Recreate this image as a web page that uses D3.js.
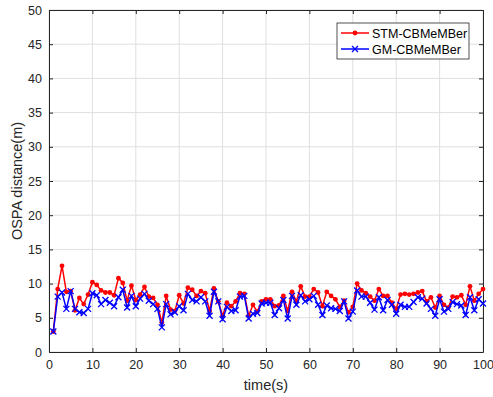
<!DOCTYPE html>
<html>
<head>
<meta charset="utf-8">
<script src="https://cdn.jsdelivr.net/npm/d3@7"></script>
<style>
  body { margin: 0; background: #fff; }
  svg { display: block; font-family: "Liberation Sans", Arial, sans-serif; }
</style>
</head>
<body>
<div id="chart"></div>
<script>
// OSPA distance per time step
const stmCBMeMBer = [
  3.0, 9.2, 12.6, 8.8, 8.9, 6.1, 7.9, 7.0, 8.4, 10.2,
  9.8, 9.0, 8.7, 8.7, 8.3, 10.8, 10.1, 7.5, 9.7, 7.6,
  8.4, 9.5, 8.1, 7.9, 6.9, 4.3, 8.2, 6.2, 6.0, 8.3,
  7.1, 9.4, 9.1, 8.2, 8.9, 8.6, 6.0, 9.3, 7.4, 5.3,
  7.2, 6.7, 7.4, 8.6, 8.5, 5.3, 6.9, 5.9, 7.4, 7.7,
  7.7, 6.7, 6.8, 8.2, 6.0, 8.8, 7.4, 9.6, 8.1, 8.1,
  9.2, 8.7, 6.7, 8.8, 8.2, 7.7, 6.6, 7.5, 5.8, 6.6,
  10.0, 9.0, 8.6, 8.1, 7.5, 9.2, 8.2, 8.2, 7.2, 6.3,
  8.4, 8.5, 8.4, 8.5, 8.7, 8.9, 7.4, 8.0, 6.5, 8.2,
  6.9, 6.5, 8.1, 8.0, 8.3, 6.9, 9.6, 7.5, 8.5, 9.2
];
const gmCBMeMBer = [
  3.0, 8.1, 8.7, 6.3, 8.9, 6.3, 5.8, 5.7, 6.3, 8.6,
  8.3, 7.0, 7.6, 7.2, 6.7, 8.0, 9.1, 6.5, 8.2, 6.7,
  7.8, 8.5, 7.5, 7.0, 6.3, 3.6, 7.0, 5.5, 5.8, 6.7,
  6.1, 8.5, 7.6, 7.4, 8.0, 7.4, 5.3, 8.8, 7.4, 4.8,
  6.6, 6.0, 6.1, 8.1, 8.2, 4.9, 5.6, 5.7, 7.1, 7.2,
  7.2, 5.4, 6.4, 7.6, 4.9, 8.2, 6.9, 8.3, 7.4, 7.7,
  8.2, 6.9, 5.4, 6.8, 6.4, 6.3, 6.0, 7.4, 4.9, 5.9,
  9.0, 8.1, 8.1, 7.2, 6.2, 8.0, 6.1, 7.6, 6.9, 5.6,
  6.9, 6.6, 6.6, 7.3, 8.0, 7.8, 7.1, 6.3, 5.3, 7.7,
  5.9, 6.3, 7.3, 7.0, 6.8, 5.4, 8.0, 6.1, 7.7, 7.1
];
const seriesNames = ["STM-CBMeMBer", "GM-CBMeMBer"];
const xTicks = [0, 10, 20, 30, 40, 50, 60, 70, 80, 90, 100];
const yTicks = [0, 5, 10, 15, 20, 25, 30, 35, 40, 45, 50];

const W = 493, H = 397;
const margin = { top: 10, right: 10, bottom: 45, left: 49 };
const width = W - margin.left - margin.right;
const height = H - margin.top - margin.bottom;
const axisColor = "#262626";

const svg = d3.select("#chart").append("svg")
  .attr("width", W)
  .attr("height", H);

const g = svg.append("g")
  .attr("transform", `translate(${margin.left},${margin.top})`);

const x = d3.scaleLinear().domain([0, 100]).range([0, width]);
const y = d3.scaleLinear().domain([0, 50]).range([height, 0]);

// grid
g.append("g")
  .selectAll("line")
  .data(xTicks)
  .join("line")
  .attr("x1", d => x(d)).attr("x2", d => x(d))
  .attr("y1", 0).attr("y2", height)
  .attr("stroke", "#dfdfdf").attr("stroke-width", 1);
g.append("g")
  .selectAll("line")
  .data(yTicks)
  .join("line")
  .attr("x1", 0).attr("x2", width)
  .attr("y1", d => y(d)).attr("y2", d => y(d))
  .attr("stroke", "#dfdfdf").attr("stroke-width", 1);

// axes, ticks pointing inward
const xAxis = g.append("g")
  .attr("transform", `translate(0,${height})`)
  .call(d3.axisBottom(x).tickValues(xTicks).tickSize(-4).tickPadding(8).tickSizeOuter(0));
const xAxisTop = g.append("g")
  .call(d3.axisTop(x).tickValues(xTicks).tickSize(-4).tickFormat("").tickSizeOuter(0));
const yAxis = g.append("g")
  .call(d3.axisLeft(y).tickValues(yTicks).tickSize(-4).tickPadding(7).tickSizeOuter(0));
const yAxisRight = g.append("g")
  .attr("transform", `translate(${width},0)`)
  .call(d3.axisRight(y).tickValues(yTicks).tickSize(-4).tickFormat("").tickSizeOuter(0));

[xAxis, xAxisTop, yAxis, yAxisRight].forEach(a => {
  a.select(".domain").attr("stroke", axisColor).attr("stroke-width", 1);
  a.selectAll(".tick line").attr("stroke", axisColor);
  a.selectAll(".tick text")
    .attr("fill", axisColor)
    .style("font-size", "12.5px")
    .style("font-family", "Liberation Sans, Arial, sans-serif");
});

// data lines
const t = d3.range(1, 101);
const line = d3.line().x((d, i) => x(t[i])).y(d => y(d));

g.append("path")
  .datum(stmCBMeMBer)
  .attr("fill", "none")
  .attr("stroke", "#ff0000")
  .attr("stroke-width", 1.5)
  .attr("d", line);
g.append("g")
  .selectAll("circle")
  .data(stmCBMeMBer)
  .join("circle")
  .attr("cx", (d, i) => x(t[i]))
  .attr("cy", d => y(d))
  .attr("r", 2.4)
  .attr("fill", "#ff0000");

g.append("path")
  .datum(gmCBMeMBer)
  .attr("fill", "none")
  .attr("stroke", "#0000ff")
  .attr("stroke-width", 1.5)
  .attr("d", line);
const s = 3;
g.append("g")
  .selectAll("path")
  .data(gmCBMeMBer)
  .join("path")
  .attr("d", (d, i) => {
    const cx = x(t[i]), cy = y(d);
    return `M${cx - s},${cy - s}L${cx + s},${cy + s}M${cx - s},${cy + s}L${cx + s},${cy - s}`;
  })
  .attr("stroke", "#0000ff")
  .attr("stroke-width", 1.3)
  .attr("fill", "none");

// axis labels
svg.append("text")
  .attr("x", margin.left + width / 2)
  .attr("y", 390)
  .attr("text-anchor", "middle")
  .attr("fill", axisColor)
  .style("font-size", "14.5px")
  .text("time(s)");
svg.append("text")
  .attr("transform", `translate(22,${margin.top + height / 2}) rotate(-90)`)
  .attr("text-anchor", "middle")
  .attr("fill", axisColor)
  .style("font-size", "14.5px")
  .text("OSPA distance(m)");

// legend
const legend = svg.append("g").attr("transform", "translate(337,23)");
legend.append("rect")
  .attr("width", 132).attr("height", 36)
  .attr("fill", "#fff")
  .attr("stroke", axisColor).attr("stroke-width", 0.8);
seriesNames.forEach((name, i) => {
  const row = legend.append("g").attr("transform", `translate(0,${10 + i * 16})`);
  const color = i === 0 ? "#ff0000" : "#0000ff";
  row.append("line")
    .attr("x1", 4).attr("x2", 32)
    .attr("stroke", color).attr("stroke-width", 1.5);
  if (i === 0) {
    row.append("circle").attr("cx", 18).attr("r", 2.4).attr("fill", color);
  } else {
    row.append("path")
      .attr("d", `M${18 - s},${-s}L${18 + s},${s}M${18 - s},${s}L${18 + s},${-s}`)
      .attr("stroke", color).attr("stroke-width", 1.3);
  }
  row.append("text")
    .attr("x", 35)
    .attr("y", 4.5)
    .attr("fill", "#000")
    .style("font-size", "12.5px")
    .text(name);
});
</script>
</body>
</html>
